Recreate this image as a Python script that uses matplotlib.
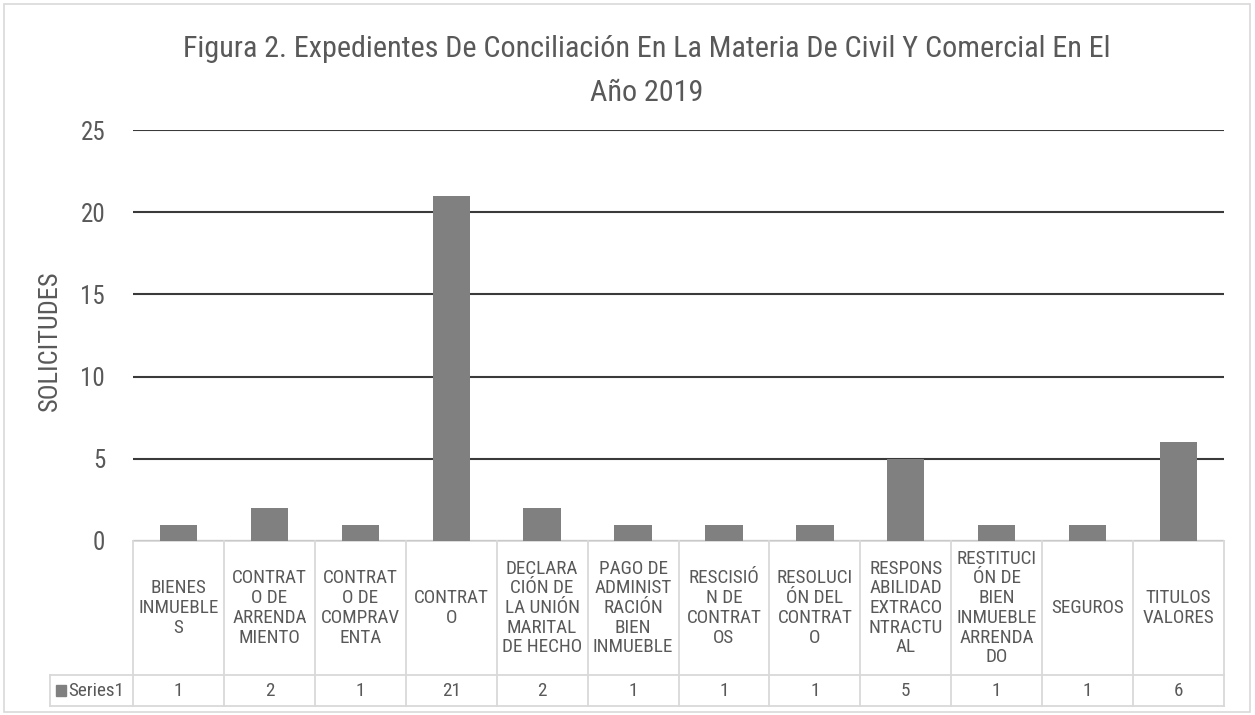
import matplotlib
matplotlib.use("Agg")
import matplotlib.pyplot as plt
from matplotlib.transforms import blended_transform_factory
from matplotlib.patches import Rectangle

FONT = ['Roboto Condensed', 'Archivo Narrow', 'Liberation Sans', 'DejaVu Sans']
plt.rcParams['font.family'] = FONT

categories = [
    "BIENES\nINMUEBLE\nS",
    "CONTRAT\nO DE\nARRENDA\nMIENTO",
    "CONTRAT\nO DE\nCOMPRAV\nENTA",
    "CONTRAT\nO",
    "DECLARA\nCIÓN DE\nLA UNIÓN\nMARITAL\nDE HECHO",
    "PAGO DE\nADMINIST\nRACIÓN\nBIEN\nINMUEBLE",
    "RESCISIÓ\nN DE\nCONTRAT\nOS",
    "RESOLUCI\nÓN DEL\nCONTRAT\nO",
    "RESPONS\nABILIDAD\nEXTRACO\nNTRACTU\nAL",
    "RESTITUCI\nÓN DE\nBIEN\nINMUEBLE\nARRENDA\nDO",
    "SEGUROS",
    "TITULOS\nVALORES",
]
values = [1, 2, 1, 21, 2, 1, 1, 1, 5, 1, 1, 6]
series_name = "Series1"
title_lines = ["Figura 2. Expedientes De Conciliación En La Materia De Civil Y Comercial En El",
               "Año 2019"]
ylabel = "SOLICITUDES"
yticks = [0, 5, 10, 15, 20, 25]

TXT = '#595959'
W, H = 1255, 715
fig = plt.figure(figsize=(W / 100, H / 100), dpi=100)
fig.patch.set_facecolor('white')

# outer border
fig.add_artist(Rectangle((4 / W, 3 / H), 1246 / W, 708 / H, transform=fig.transFigure,
                         fill=False, edgecolor='#d9d9d9', linewidth=1.2))

left, right, top, bottom = 133, 1224, 130, 541
ax = fig.add_axes([left / W, (H - bottom) / H, (right - left) / W, (bottom - top) / H])
n = len(categories)
xs = list(range(n))
ax.bar(xs, values, width=0.41, color='#808080', zorder=3)
ax.set_xlim(-0.5, n - 0.5)
ax.set_ylim(0, 25)
ax.set_yticks(yticks)
ax.yaxis.grid(True, color='#3a3a3a', linewidth=1.5, zorder=0)
ax.set_xticks([])
for s in ax.spines.values():
    s.set_visible(False)
ax.tick_params(axis='y', length=0, labelsize=18, labelcolor=TXT, pad=20)

fig.text(50 / W, 1 - 341 / H, ylabel, rotation=90, ha='center', va='center',
         fontsize=19, color=TXT)

tx = 647 / W
fig.text(tx, (H - 49) / H, title_lines[0], ha='center', va='center', fontsize=21.7, color=TXT)
fig.text(tx, (H - 93) / H, title_lines[1], ha='center', va='center', fontsize=21.7, color=TXT)

# data table
trans = blended_transform_factory(ax.transData, ax.transAxes)
axh = bottom - top
def yfrac(py):
    return (bottom - py) / axh

y_top = yfrac(541)
y_mid = yfrac(675)
y_bot = yfrac(706)
grid_c = '#d9d9d9'
lw = 1.3
cw = (right - left) / n
x_leg = -0.5 - 83 / cw
ax.plot([-0.5, n - 0.5], [y_top, y_top], transform=trans, color=grid_c, lw=lw, clip_on=False)
ax.plot([x_leg, n - 0.5], [y_mid, y_mid], transform=trans, color=grid_c, lw=lw, clip_on=False)
ax.plot([x_leg, n - 0.5], [y_bot, y_bot], transform=trans, color=grid_c, lw=lw, clip_on=False)
for i in range(n + 1):
    x = i - 0.5
    ax.plot([x, x], [y_top, y_bot], transform=trans, color=grid_c, lw=lw, clip_on=False)
ax.plot([x_leg] * 2, [y_mid, y_bot], transform=trans, color=grid_c, lw=lw, clip_on=False)

for i, (c, v) in enumerate(zip(categories, values)):
    ax.text(i, (y_top + y_mid) / 2, c, transform=trans, ha='center', va='center',
            fontsize=13.8, color=TXT, linespacing=1.12, clip_on=False)
    ax.text(i, (y_mid + y_bot) / 2, str(v), transform=trans, ha='center', va='center',
            fontsize=13.8, color=TXT, clip_on=False)

kx = x_leg + 6 / cw
ax.add_patch(Rectangle((kx, (y_mid + y_bot) / 2 - 0.013), 10 / cw, 0.026, transform=trans,
                       color='#808080', clip_on=False))
ax.text(kx + 12 / cw, (y_mid + y_bot) / 2, series_name, transform=trans, ha='left',
        va='center', fontsize=13.8, color=TXT, clip_on=False)

fig.savefig('out.png', dpi=100)
